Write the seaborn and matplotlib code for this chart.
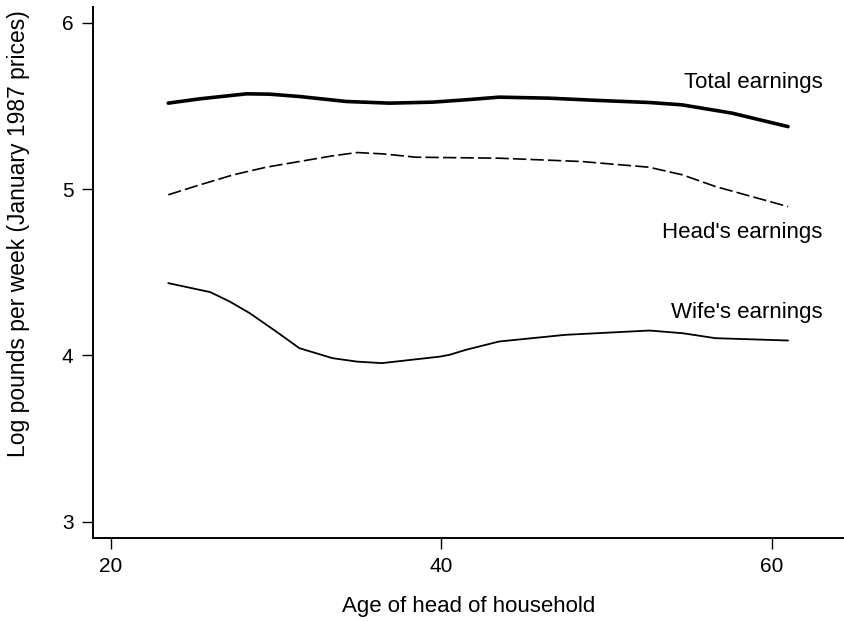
import pandas as pd
import matplotlib
matplotlib.use('Agg')
import matplotlib.pyplot as plt
import seaborn as sns

# values (age of head of household vs log pounds per week)
total_age = [23.46, 25.38, 28.2, 29.6, 31.4, 34.24, 36.86, 39.47, 41.49, 43.5,
             46.5, 49.55, 52.57, 54.56, 57.6, 61.0]
total_val = [5.517, 5.543, 5.573, 5.571, 5.557, 5.527, 5.517, 5.523, 5.537, 5.553,
             5.547, 5.533, 5.521, 5.507, 5.457, 5.376]

head_age = [23.46, 25.38, 27.4, 29.4, 31.4, 33.4, 34.9, 36.45, 38.47, 43.5,
            48.5, 52.57, 54.6, 56.6, 61.0]
head_val = [4.966, 5.026, 5.086, 5.132, 5.166, 5.2, 5.22, 5.212, 5.192, 5.186,
            5.166, 5.132, 5.086, 5.016, 4.895]

wife_age = [23.46, 26.0, 27.19, 28.4, 30.0, 31.4, 33.4, 34.9, 36.4, 39.9, 40.5,
            41.49, 43.5, 47.5, 52.6, 54.6, 56.6, 61.0]
wife_val = [4.435, 4.381, 4.324, 4.254, 4.144, 4.044, 3.984, 3.963, 3.954, 3.993, 4.004,
            4.034, 4.084, 4.124, 4.150, 4.134, 4.104, 4.090]

series_names = ['Total earnings', "Head's earnings", "Wife's earnings"]
label_y = [5.64, 4.74, 4.26]

sns.set_style('ticks')
plt.rcParams['font.family'] = ['Liberation Sans', 'DejaVu Sans']
for k in ['text.color', 'axes.labelcolor', 'xtick.color', 'ytick.color', 'axes.edgecolor']:
    plt.rcParams[k] = 'black'

fig = plt.figure(figsize=(8.45, 6.21), dpi=100)
ax = fig.add_axes([0.110, 0.134, 0.889, 0.855])

sns.lineplot(x=total_age, y=total_val, ax=ax, color='black', lw=2.6)
sns.lineplot(x=head_age, y=head_val, ax=ax, color='black', lw=1.2, linestyle=(0, (8, 2.5)))
sns.lineplot(x=wife_age, y=wife_val, ax=ax, color='black', lw=1.3)

for name, yv in zip(series_names, label_y):
    ax.text(63.1, yv, name, ha='right', va='center', fontsize=16)

ax.set_xlim(18.9, 64.4)
ax.set_ylim(2.904, 6.096)
ax.set_xticks([20, 40, 60])
ax.set_yticks([3, 4, 5, 6])
ax.tick_params(length=8, width=1, labelsize=15, pad=6)
ax.set_xlabel('Age of head of household', fontsize=16, labelpad=14)
ax.set_ylabel('Log pounds per week (January 1987 prices)', fontsize=16.5)
ax.yaxis.set_label_coords(-0.084, 0.572)
for s in ['left', 'bottom']:
    ax.spines[s].set_linewidth(1.4)
sns.despine(ax=ax)

fig.savefig('out.png', dpi=100)
